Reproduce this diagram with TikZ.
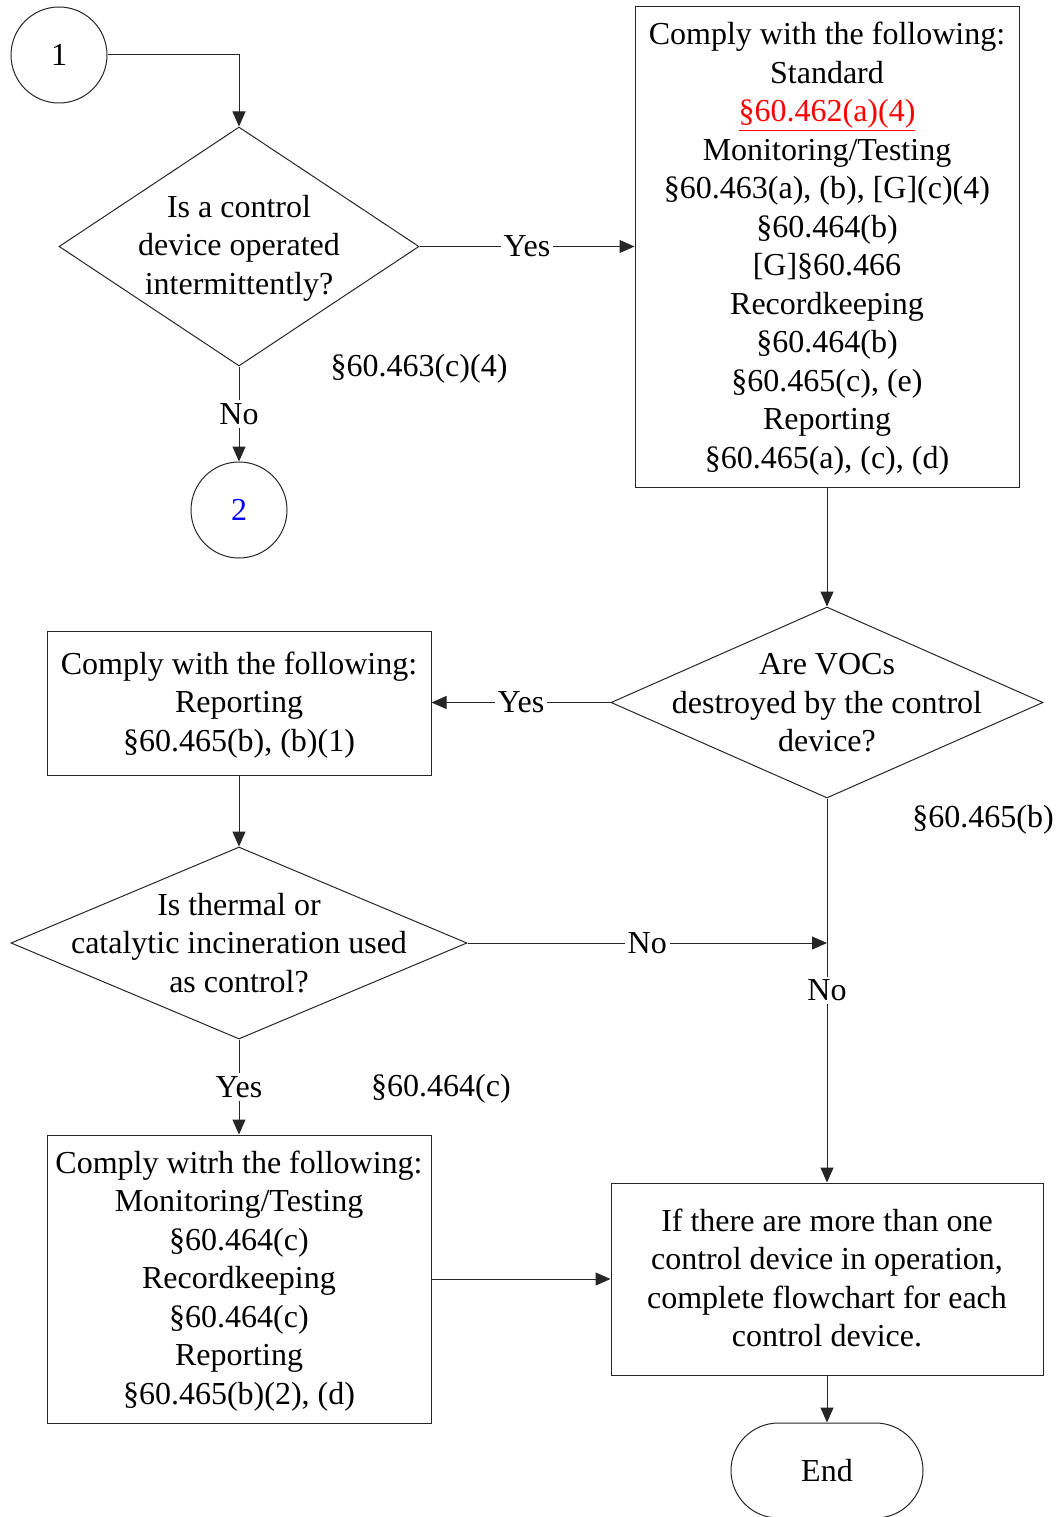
\documentclass[tikz,border=0pt]{standalone}
\usepackage{fontspec}
\setmainfont{Liberation Serif}
\usetikzlibrary{shapes.geometric,arrows.meta}
\definecolor{lnk}{RGB}{255,0,0}
\definecolor{bl}{RGB}{0,0,255}
\tikzset{
  base/.style={draw=black!85, line width=1pt},
  box/.style={base, rectangle, align=center, inner sep=0pt},
  dia/.style={base, diamond, inner sep=0pt},
  circ/.style={base, circle, minimum size=96, inner sep=0pt},
  txt/.style={align=center, inner sep=0pt},
  lbl/.style={fill=white, inner sep=3pt},
  plain/.style={line width=1pt, draw=black!85},
  conn/.style={plain, -{Triangle[length=15pt,width=13pt]}},
}
\begin{document}
\begin{tikzpicture}[x=1pt,y=-1pt,font=\fontsize{32}{38.5}\selectfont]
\useasboundingbox (0,0) rectangle (1055,1517);
% nodes
\node[circ] (c1) at (59,55) {1};
\node[dia, minimum width=360, minimum height=239] (d1) at (239,246.5) {};
\node[txt] (t1) at (239,248) {Is a control\\device operated\\intermittently?};
\node[box, minimum width=384, minimum height=480] (b1) at (827,247) {};
\node[txt] (t4) at (827,248.5) {Comply with the following:\\Standard\\\textcolor{lnk}{\underline{§60.462(a)(4)}}\\Monitoring/Testing\\§60.463(a), (b), {[G]}(c)(4)\\§60.464(b)\\{[G]}§60.466\\Recordkeeping\\§60.464(b)\\§60.465(c), (e)\\Reporting\\§60.465(a), (c), (d)};
\node[circ, text=bl] (c2) at (239,510) {2};
\node[txt] (a1) at (419,369) {§60.463(c)(4)};
\node[dia, minimum width=432, minimum height=191] (d2) at (827,702.5) {};
\node[txt] (t2) at (827,703) {Are VOCs\\destroyed by the control\\device?};
\node[txt] (a2) at (983,820) {§60.465(b)};
\node[box, minimum width=384, minimum height=144] (b2) at (239,703) {};
\node[txt] (t5) at (239,705) {Comply with the following:\\Reporting\\§60.465(b), (b)(1)};
\node[dia, minimum width=456, minimum height=192] (d3) at (239,943) {};
\node[txt] (t3) at (d3.center) {Is thermal or\\catalytic incineration used\\as control?};
\coordinate (m1) at (827,943);
\node[txt] (a3) at (441,1089) {§60.464(c)};
\node[box, minimum width=384, minimum height=288] (b3) at (239,1279) {};
\node[txt] (t6) at (239,1281) {Comply witrh the following:\\Monitoring/Testing\\§60.464(c)\\Recordkeeping\\§60.464(c)\\Reporting\\§60.465(b)(2), (d)};
\node[box, minimum width=432, minimum height=192] (b4) at (827,1279) {};
\node[txt] (t7) at (827,1278) {If there are more than one\\control device in operation,\\complete flowchart for each\\control device.};
\node[base, rounded corners=47.5, minimum width=192, minimum height=95, inner sep=0pt] (e) at (827,1470.5) {End};
% connectors
\draw[conn] (c1.east) -| (d1.north);
\draw[conn] (d1.east) -- node[lbl] {Yes} (d1.east -| b1.west);
\draw[conn] (d1.south) -- node[lbl] {No} (c2.north);
\draw[conn] (b1.south) -- (d2.north);
\draw[conn] (d2.west) -- node[lbl] {Yes} (d2.west -| b2.east);
\draw[conn] (b2.south) -- (d3.north);
\draw[conn] (d3.east) -- node[lbl] {No} (m1);
\draw[conn] (d2.south) -- node[lbl] {No} (b4.north);
\draw[conn] (d3.south) -- node[lbl] {Yes} (b3.north);
\draw[conn] (b3.east) -- (b4.west);
\draw[conn] (b4.south) -- (e.north);
\end{tikzpicture}
\end{document}
